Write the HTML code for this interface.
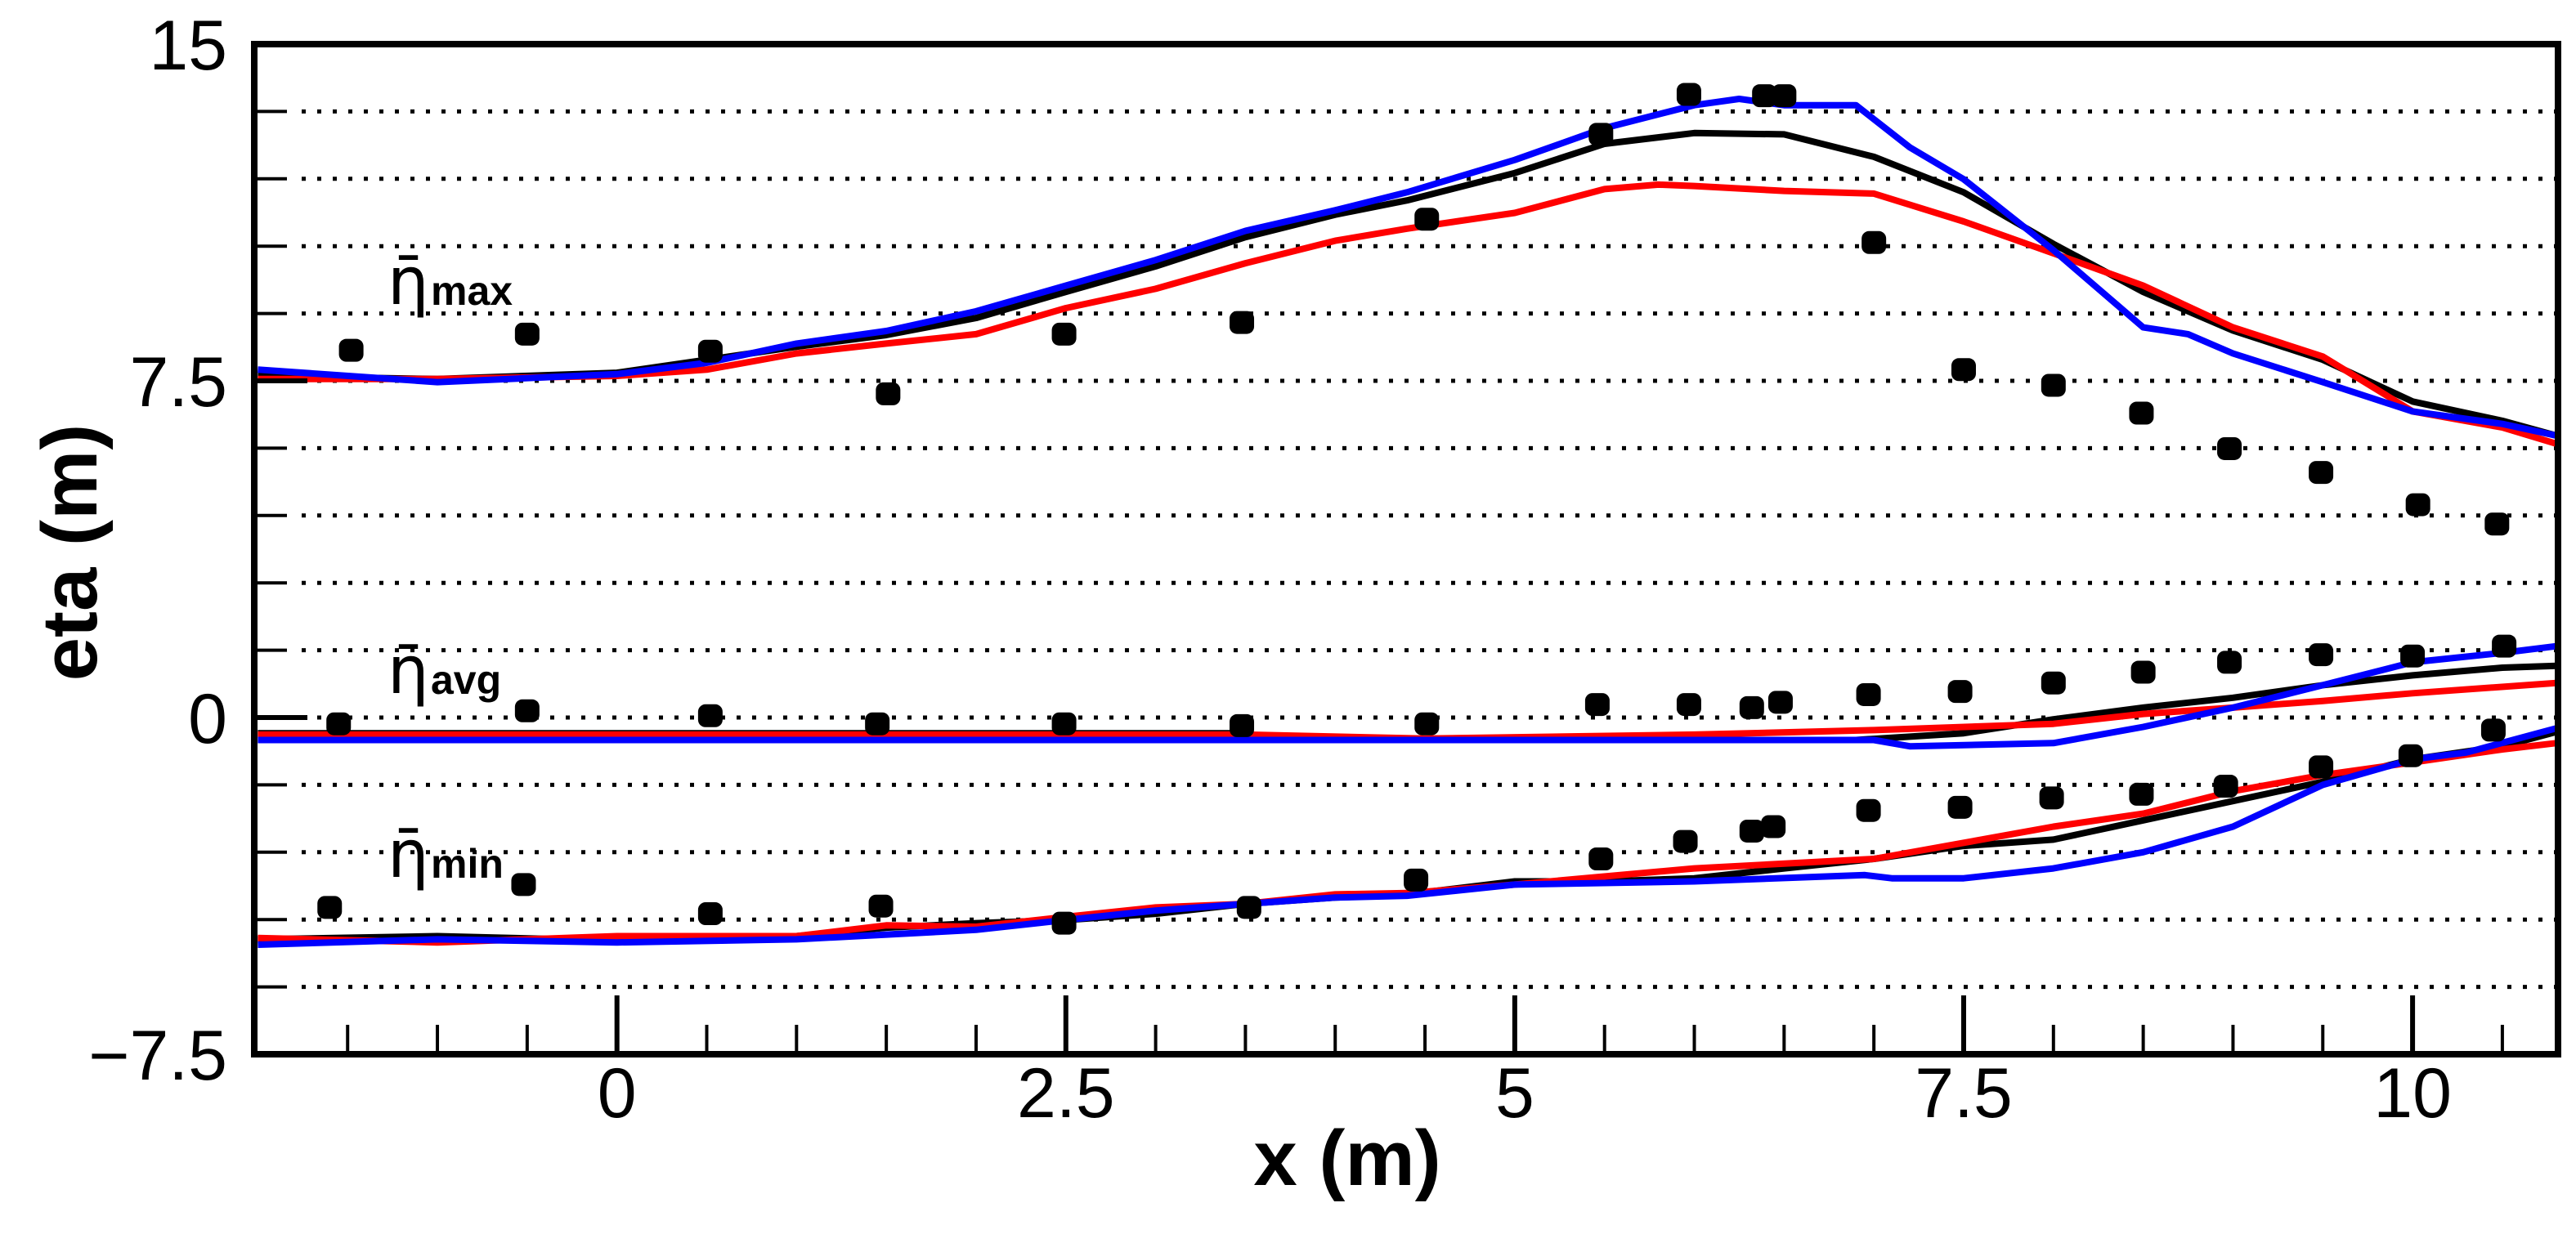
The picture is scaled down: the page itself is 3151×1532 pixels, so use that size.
<!DOCTYPE html>
<html><head><meta charset="utf-8"><style>
html,body{margin:0;padding:0;background:#fff;}
svg{display:block;font-family:"Liberation Sans",Arial,sans-serif;}
</style></head><body>
<svg id="chart" width="3151" height="1532" viewBox="0 0 3151 1532" xmlns="http://www.w3.org/2000/svg">
<g id="grid"></g>
<g id="series"></g>
<g id="dots"></g>
<rect x="311" y="54" width="2818" height="1236" fill="none" stroke="#000" stroke-width="8"/>
<g id="axes"></g>
<text transform="translate(118,676) rotate(-90)" text-anchor="middle" font-size="96" font-weight="bold">eta (m)</text>
<text x="1648" y="1450" text-anchor="middle" font-size="96" font-weight="bold">x (m)</text>
<g><text x="474" y="372" font-size="80" font-family="DejaVu Sans,sans-serif">η̄</text><text x="527" y="373" font-size="50" font-weight="bold">max</text></g>
<g><text x="474" y="848" font-size="80" font-family="DejaVu Sans,sans-serif">η̄</text><text x="527" y="849" font-size="50" font-weight="bold">avg</text></g>
<g><text x="474" y="1073" font-size="80" font-family="DejaVu Sans,sans-serif">η̄</text><text x="527" y="1074" font-size="50" font-weight="bold">min</text></g>
</svg>
<script>
const xTicks=[0,2.5,5,7.5,10];
const xTickLabels=["0","2.5","5","7.5","10"];
const yTicks=[15,7.5,0,-7.5];
const yTickLabels=["15","7.5","0","-7.5"];
const obsMaxX=[-1.48,-0.5,0.52,1.51,2.49,3.48,4.51,5.48,5.97,6.39,6.5,7.0,7.5,8.0,8.49,8.98,9.49,10.03,10.47];
const obsMaxY=[8.18,8.54,8.16,7.21,8.54,8.8,11.1,12.99,13.88,13.85,13.85,10.58,7.75,7.4,6.78,5.99,5.46,4.74,4.31];
const obsAvgX=[-1.55,-0.5,0.52,1.45,2.49,3.48,4.51,5.46,5.97,6.32,6.48,6.97,7.48,8.0,8.5,8.98,9.49,10.0,10.51];
const obsAvgY=[-0.14,0.15,0.04,-0.14,-0.14,-0.18,-0.14,0.29,0.29,0.22,0.34,0.51,0.58,0.77,1.01,1.23,1.4,1.37,1.59];
const obsMinX=[-1.6,-0.52,0.52,1.47,2.49,3.52,4.45,5.48,5.95,6.32,6.44,6.97,7.48,7.99,8.49,8.96,9.49,9.99,10.45];
const obsMinY=[-4.23,-3.72,-4.37,-4.2,-4.58,-4.23,-3.62,-3.15,-2.76,-2.53,-2.43,-2.07,-2.0,-1.79,-1.71,-1.53,-1.1,-0.85,-0.28];
const blackMaxX=[-2,-1,0,0.5,1,1.5,2,2.5,3,3.5,4,4.4,5,5.5,6,6.5,7,7.5,8,8.5,9,9.5,10,10.5,10.8];
const blackMaxY=[7.61,7.54,7.68,7.97,8.26,8.52,8.9,9.48,10.05,10.7,11.2,11.52,12.13,12.78,13.02,12.99,12.49,11.7,10.55,9.48,8.62,7.97,7.04,6.61,6.28];
const blueMaxX=[-2,-1,0,0.5,1,1.5,2,2.5,3,3.5,4,4.4,5,5.5,6,6.25,6.5,6.9,7.2,7.5,8,8.5,8.75,9,9.5,10,10.5,10.8];
const blueMaxY=[7.75,7.47,7.65,7.9,8.33,8.61,9.05,9.62,10.19,10.84,11.3,11.7,12.42,13.13,13.64,13.78,13.64,13.64,12.7,11.99,10.41,8.69,8.54,8.11,7.47,6.82,6.54,6.28];
const redMaxX=[-2,-1,0,0.5,1,1.5,2,2.5,3,3.5,4,4.4,5,5.5,5.8,6,6.5,7,7.5,8,8.5,9,9.5,10,10.5,10.8];
const redMaxY=[7.54,7.54,7.61,7.75,8.11,8.33,8.54,9.12,9.55,10.12,10.62,10.89,11.24,11.77,11.87,11.84,11.73,11.67,11.05,10.34,9.62,8.69,8.04,6.82,6.46,6.1];
const blackAvgX=[-2,3.5,3.6,6.9,7.5,8,8.5,9,9.5,10,10.5,10.8];
const blackAvgY=[-0.35,-0.35,-0.5,-0.5,-0.35,-0.04,0.22,0.44,0.72,0.94,1.11,1.15];
const blueAvgX=[-2,7,7.2,8,8.5,9,9.5,10,10.5,10.8];
const blueAvgY=[-0.5,-0.5,-0.64,-0.57,-0.21,0.22,0.72,1.23,1.44,1.59];
const redAvgX=[-2,3.5,4.5,6,7,8,8.5,9,9.5,10,10.8];
const redAvgY=[-0.38,-0.38,-0.47,-0.38,-0.28,-0.14,0.08,0.22,0.37,0.54,0.77];
const blackMinX=[-2,-1,0,1,1.5,2,2.5,3,3.5,4,4.4,5,5.5,6,6.5,7,7.5,8,8.5,9,9.5,10,10.5,10.8];
const blackMinY=[-4.94,-4.87,-4.97,-4.87,-4.68,-4.58,-4.51,-4.37,-4.15,-4.01,-3.94,-3.65,-3.65,-3.58,-3.36,-3.15,-2.86,-2.72,-2.29,-1.86,-1.43,-0.93,-0.64,-0.32];
const blueMinX=[-2,-1,0,1,2,2.5,3,3.5,4,4.4,5,6,6.95,7.1,7.5,8,8.5,9,9.5,10,10.3,10.8];
const blueMinY=[-5.06,-4.94,-5.01,-4.94,-4.73,-4.51,-4.3,-4.15,-4.01,-3.97,-3.72,-3.65,-3.51,-3.58,-3.58,-3.36,-3.0,-2.43,-1.5,-0.93,-0.78,-0.24];
const redMinX=[-2,-1,0,1,1.5,2,2.5,3,3.5,4,4.4,5,6,7,7.5,8,8.5,9,9.5,10,10.5,10.8];
const redMinY=[-4.91,-5.01,-4.87,-4.87,-4.63,-4.66,-4.44,-4.23,-4.15,-3.94,-3.91,-3.72,-3.36,-3.15,-2.79,-2.43,-2.14,-1.64,-1.28,-1.0,-0.71,-0.57];

const X0=311,X1=3129,Y0=54,Y1=1290,XMIN=-2.02,XMAX=10.81,YMIN=-7.5,YMAX=15;
function sx(v){return X0+(v-XMIN)/(XMAX-XMIN)*(X1-X0);}
function sy(v){return Y1-(v-YMIN)/(YMAX-YMIN)*(Y1-Y0);}
const NS="http://www.w3.org/2000/svg";
function mk(tag,attrs,parent){const e=document.createElementNS(NS,tag);for(const k in attrs)e.setAttribute(k,attrs[k]);parent.appendChild(e);return e;}
const grid=document.getElementById('grid'),axes=document.getElementById('axes'),series=document.getElementById('series'),dots=document.getElementById('dots');
for(let i=1;i<15;i++){const v=YMIN+i*1.5;const y=sy(v);
 const g=mk('line',{x1:X0+58,x2:X1,y1:y,y2:y,stroke:'#000','stroke-width':5,'stroke-dasharray':'5 14'},grid);
 
 
 const major=(Math.abs(v-7.5)<1e-6||Math.abs(v)<1e-6);
 const t=mk('line',{x1:X0,x2:X0+(major?65:40),y1:y,y2:y,stroke:'#000','stroke-width':major?6:4},axes);
 
 
}
for(let v=-1.5;v<=10.6;v+=0.5){const x=sx(v);const major=xTicks.some(t=>Math.abs(t-v)<1e-6);
 const t=mk('line',{x1:x,x2:x,y1:Y1,y2:Y1-(major?72:36),stroke:'#000','stroke-width':major?6:4},axes);
 
 
}
xTicks.forEach((v,i)=>{const t=mk('text',{x:sx(v),y:1367,'text-anchor':'middle','font-size':86},axes);t.textContent=xTickLabels[i];
 
 });
yTicks.forEach((v,i)=>{const t=mk('text',{x:278,y:sy(v)+31,'text-anchor':'end','font-size':86},axes);t.textContent=yTickLabels[i].replace('-','\u2212');
 
 });
function line(xs,ys,color,name){const p=xs.map((x,i)=>sx(x).toFixed(1)+','+sy(ys[i]).toFixed(1)).join(' ');
 const e=mk('polyline',{points:p,fill:'none',stroke:color,'stroke-width':8,'stroke-linejoin':'round'},series);
 
 }
line(blackMaxX,blackMaxY,'#000','black-max-line');
line(redMaxX,redMaxY,'#ff0000','red-max-line');
line(blueMaxX,blueMaxY,'#0000ff','blue-max-line');
line(blackAvgX,blackAvgY,'#000','black-avg-line');
line(redAvgX,redAvgY,'#ff0000','red-avg-line');
line(blueAvgX,blueAvgY,'#0000ff','blue-avg-line');
line(blackMinX,blackMinY,'#000','black-min-line');
line(redMinX,redMinY,'#ff0000','red-min-line');
line(blueMinX,blueMinY,'#0000ff','blue-min-line');
function pts(xs,ys,name){xs.forEach((x,i)=>{const d=mk('rect',{x:sx(x)-15,y:sy(ys[i])-14,width:30,height:28,rx:9,fill:'#000'},dots);
 
 });}
pts(obsMaxX,obsMaxY,'obs-max-point');
pts(obsAvgX,obsAvgY,'obs-avg-point');
pts(obsMinX,obsMinY,'obs-min-point');
</script>
</body></html>
